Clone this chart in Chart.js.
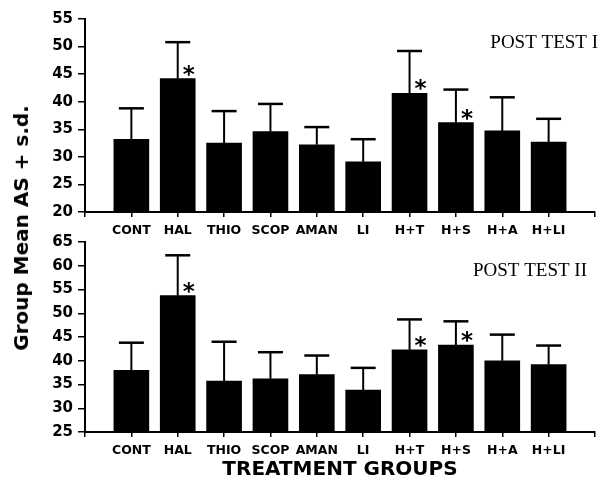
<!DOCTYPE html>
<html>
<head>
<meta charset="utf-8">
<script src="https://cdn.jsdelivr.net/npm/chart.js@4.4.0/dist/chart.umd.min.js"></script>
<style>
  body { margin: 0; background: #fff; overflow: hidden; }
  #wrap { position: relative; width: 601px; height: 478px; }
  #top { position: absolute; left: 0; top: 0; }
  #bottom { position: absolute; left: 0; top: 228px; }
  #ytitle {
    position: absolute; left: 21px; top: 228px;
    transform: translate(-50%, -50%) rotate(-90deg);
    font: bold 20px "DejaVu Sans"; white-space: nowrap; color: #000;
  }
</style>
</head>
<body>
<div id="wrap">
  <canvas id="top" width="601" height="238"></canvas>
  <canvas id="bottom" width="601" height="250"></canvas>
  <div id="ytitle">Group Mean AS + s.d.</div>
</div>
<script>
const groups = ['CONT', 'HAL', 'THIO', 'SCOP', 'AMAN', 'LI', 'H+T', 'H+S', 'H+A', 'H+LI'];

// Post test I
const meansI = [33.2, 44.2, 32.5, 34.6, 32.2, 29.1, 41.5, 36.2, 34.7, 32.7];
const sdI    = [5.6, 6.6, 5.8, 5.0, 3.2, 4.1, 7.7, 6.0, 6.1, 4.2];
const starsI = [0, 1, 0, 0, 0, 0, 1, 1, 0, 0];

// Post test II
const meansII = [38.0, 53.7, 35.7, 36.2, 37.1, 33.8, 42.3, 43.3, 40.0, 39.2];
const sdII    = [5.8, 8.5, 8.3, 5.6, 4.0, 4.7, 6.4, 5.0, 5.5, 4.0];
const starsII = [0, 1, 0, 0, 0, 0, 1, 1, 0, 0];

const tickFont = { family: 'DejaVu Sans', weight: 'bold', size: 15 };
const catFont = { family: 'DejaVu Sans', weight: 'bold', size: 12.5 };

// error bars, significance stars and panel label
const errorBars = {
    id: 'errorBars',
    afterDatasetsDraw(chart, args, opts) {
        const { ctx, scales: { x, y } } = chart;
        ctx.save();
        ctx.strokeStyle = '#000';
        ctx.fillStyle = '#000';
        opts.means.forEach((m, i) => {
            const px = x.getPixelForValue(i);
            const yBar = y.getPixelForValue(m);
            const yTop = y.getPixelForValue(m + opts.sds[i]);
            ctx.lineWidth = 2;
            ctx.beginPath();
            ctx.moveTo(px, yBar);
            ctx.lineTo(px, yTop);
            ctx.stroke();
            ctx.lineWidth = 2.5;
            ctx.beginPath();
            ctx.moveTo(px - 12.5, yTop);
            ctx.lineTo(px + 12.5, yTop);
            ctx.stroke();
            if (opts.stars[i]) {
                ctx.font = 'bold 23px "DejaVu Sans"';
                ctx.textAlign = 'center';
                ctx.textBaseline = 'alphabetic';
                ctx.fillText('*', px + 11, yBar + 3);
            }
        });
        ctx.font = '19px "Liberation Serif"';
        ctx.textAlign = 'right';
        ctx.textBaseline = 'alphabetic';
        ctx.fillText(opts.label, opts.labelX, 48);
        ctx.restore();
    }
};

function makeChart(id, means, sds, stars, yMin, yMax, label, labelX, padTop, xHeight, xTitle) {
    const ctx = document.getElementById(id).getContext('2d');
    return new Chart(ctx, {
        type: 'bar',
        data: {
            datasets: [{
                data: means.map((v, i) => ({ x: i, y: v })),
                backgroundColor: '#000',
                borderWidth: 0,
                barThickness: 35
            }]
        },
        options: {
            responsive: false,
            animation: false,
            layout: { padding: { top: padTop, right: 1, left: 0, bottom: 0 } },
            plugins: {
                legend: { display: false },
                tooltip: { enabled: false },
                errorBars: { means, sds, stars, label, labelX }
            },
            scales: {
                x: {
                    type: 'linear',
                    min: -1,
                    max: 10,
                    offset: false,
                    afterFit: (s) => { s.height = xHeight; },
                    border: { display: true, color: '#000', width: 2 },
                    grid: { offset: false, drawOnChartArea: false, drawTicks: true, tickLength: 5, color: '#000', lineWidth: 1.5 },
                    ticks: {
                        stepSize: 1,
                        autoSkip: false,
                        maxRotation: 0,
                        padding: 6,
                        color: '#000',
                        font: catFont,
                        callback: (v) => groups[v] || ''
                    },
                    title: {
                        display: !!xTitle,
                        text: xTitle || '',
                        color: '#000',
                        padding: 0,
                        font: { family: 'DejaVu Sans', weight: 'bold', size: 20, lineHeight: 0.8 }
                    }
                },
                y: {
                    min: yMin,
                    max: yMax,
                    afterFit: (s) => { s.width = 85; },
                    border: { display: true, color: '#000', width: 2 },
                    grid: { drawOnChartArea: false, drawTicks: true, tickLength: 7, color: '#000', lineWidth: 1.5 },
                    ticks: { stepSize: 5, padding: 5, color: '#000', font: tickFont }
                }
            }
        },
        plugins: [errorBars]
    });
}

makeChart('top', meansI, sdI, starsI, 20, 55, 'POST TEST I', 598, 19, 26, null);
makeChart('bottom', meansII, sdII, starsII, 25, 65, 'POST TEST II', 587, 12.7, 46, 'TREATMENT GROUPS');
</script>
</body>
</html>
